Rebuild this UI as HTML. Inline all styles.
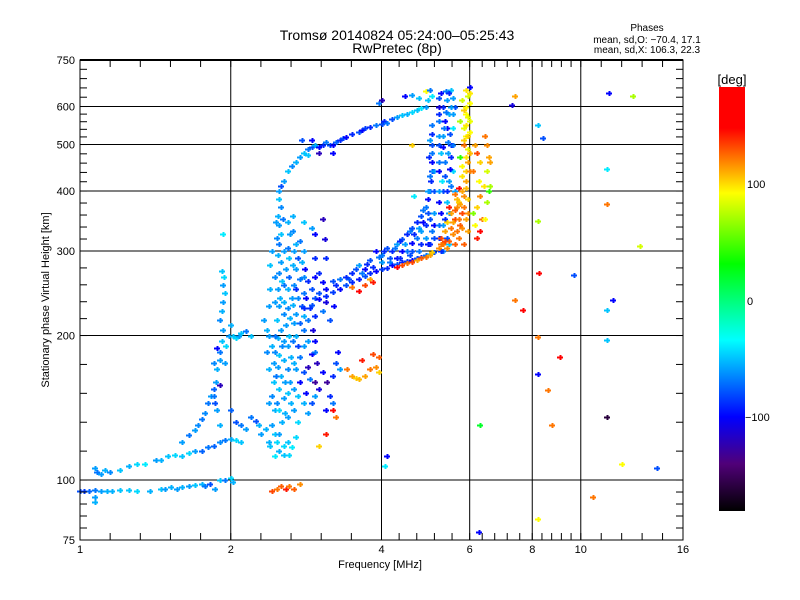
<!DOCTYPE html>
<html><head><meta charset="utf-8">
<style>
html,body{margin:0;padding:0;background:#fff;}
svg{display:block;font-family:"Liberation Sans",sans-serif;}
text{fill:#000;}
</style></head>
<body>
<svg id="chart" width="800" height="600" viewBox="0 0 800 600">
  <rect x="0" y="0" width="800" height="600" fill="#fff"/>
  <text x="397" y="40" font-size="14" text-anchor="middle">Tromsø 20140824 05:24:00–05:25:43</text>
  <text x="397" y="53" font-size="14" text-anchor="middle">RwPretec (8p)</text>
  <text x="647" y="31" font-size="10" text-anchor="middle">Phases</text>
  <text x="647" y="43" font-size="10" text-anchor="middle">mean, sd,O: −70.4, 17.1</text>
  <text x="647" y="53" font-size="10" text-anchor="middle">mean, sd,X: 106.3, 22.3</text>
  <g id="grid"></g>
  <g id="points"></g>
  <g id="axes"></g>
  <text x="380" y="568" font-size="11" text-anchor="middle">Frequency [MHz]</text>
  <text transform="translate(49,300) rotate(-90)" font-size="11" text-anchor="middle">Stationary phase Virtual Height [km]</text>
  <defs>
    <linearGradient id="cbgrad" x1="0" y1="1" x2="0" y2="0">
      <stop offset="0" stop-color="#000"/>
      <stop offset="0.111" stop-color="#500078"/>
      <stop offset="0.222" stop-color="#0000ff"/>
      <stop offset="0.403" stop-color="#00ffff"/>
      <stop offset="0.583" stop-color="#00ff00"/>
      <stop offset="0.75" stop-color="#ffff00"/>
      <stop offset="0.819" stop-color="#ff8c00"/>
      <stop offset="0.903" stop-color="#ff0000"/>
      <stop offset="1" stop-color="#ff0000"/>
    </linearGradient>
  </defs>
  <rect x="719" y="87" width="26" height="424" fill="url(#cbgrad)"/>
  <text x="732" y="84" font-size="13" text-anchor="middle">[deg]</text>
  <text x="747" y="188" font-size="11">100</text>
  <text x="747" y="305" font-size="11">0</text>
  <text x="745" y="421" font-size="11">−100</text>
</svg>
<script>
// ---- data: [frequency MHz, virtual height km, phase deg] ----
const eLayerTrace = [[1.0,95,-80],[1.02,95,-85],[1.04,95,-75],[1.07,95.5,-70],[1.1,95,-60],[1.13,95,-55],[1.16,95,-55],[1.2,95.5,-50],[1.25,95.5,-50],[1.3,95,-45],[1.38,95,-55],[1.45,96,-50],[1.48,96,-60],[1.52,96.5,-55],[1.56,96,-60],[1.6,96.5,-55],[1.65,97,-60],[1.7,97.5,-50],[1.75,98,-55],[1.78,97,-70],[1.82,98,-80],[1.86,96,-60],[1.9,100,-50],[1.95,100,-70],[2.0,101,-45],[2.02,99,-55],[1.07,92,-60],[1.07,90,-55]];
const lowTrace = [[1.07,106,-60],[1.08,104,-70],[1.1,103,-60],[1.12,105,-55],[1.15,104,-65],[1.2,105,-50],[1.25,107,-55],[1.3,108,-45],[1.35,108,-40],[1.42,110,-60],[1.45,110,-55],[1.5,112,-50],[1.55,113,-45],[1.6,112,-50],[1.65,114,-45],[1.7,115,-60],[1.75,115,-75],[1.8,117,-70],[1.85,118,-75],[1.9,120,-65],[1.95,121,-70],[2.0,122,-55],[2.05,121,-45],[2.1,120,-50],[1.6,120,-60],[1.65,124,-70],[1.7,127,-60],[1.72,130,-65],[1.75,134,-70],[1.78,138,-65],[1.8,145,-70],[1.83,150,-60],[1.85,155,-75]];
const risingTrace = [[1.85,150,-70],[1.87,160,-60],[1.88,170,-55],[1.9,178,-60],[1.9,185,-70],[1.92,195,-50],[1.93,205,-60],[1.9,215,-65],[1.92,225,-55],[1.93,235,-60],[1.95,245,-50],[1.93,255,-60],[1.94,265,-45],[1.92,272,-50],[1.96,190,-45],[1.98,200,-60],[2.0,210,-55],[2.02,200,-50],[2.05,198,-45],[2.08,200,-60],[2.1,202,-50],[2.15,204,-70],[2.2,200,-50],[1.88,140,-60],[1.86,145,-80],[1.9,130,-55],[1.9,158,-120],[1.85,175,-65],[1.88,188,-100],[1.95,175,-60],[1.93,325,-40],[2.05,132,-80],[2.1,130,-70],[2.15,128,-60],[2.2,135,-70],[2.25,133,-80],[2.0,140,-75]];
const fCluster = [[2.33,215,-60],[2.36,205,-55],[2.38,230,-60],[2.4,250,-55],[2.4,280,-50],[2.42,300,-60],[2.42,190,-55],[2.44,175,-60],[2.44,160,-50],[2.42,150,-65],[2.45,140,-55],[2.42,130,-60],[2.45,125,-50],[2.47,120,-45],[2.5,385,-50],[2.52,370,-65],[2.48,355,-55],[2.5,340,-60],[2.52,325,-50],[2.5,310,-70],[2.48,295,-55],[2.52,285,-60],[2.5,270,-65],[2.53,260,-50],[2.48,250,-60],[2.51,240,-55],[2.5,230,-60],[2.55,222,-65],[2.47,215,-50],[2.52,205,-60],[2.49,198,-55],[2.53,190,-65],[2.5,182,-50],[2.48,172,-60],[2.52,165,-55],[2.5,155,-50],[2.55,148,-60],[2.5,140,-45],[2.53,132,-55],[2.5,125,-60],[2.6,345,-55],[2.63,325,-60],[2.6,305,-70],[2.62,290,-50],[2.58,275,-60],[2.62,265,-75],[2.6,250,-55],[2.65,240,-60],[2.6,228,-65],[2.63,218,-55],[2.58,210,-60],[2.62,200,-50],[2.6,190,-60],[2.64,180,-55],[2.6,170,-65],[2.63,160,-60],[2.6,152,-50],[2.64,145,-55],[2.6,135,-60],[2.7,310,-55],[2.72,290,-80],[2.7,275,-60],[2.75,262,-70],[2.7,250,-90],[2.73,240,-65],[2.78,230,-80],[2.7,222,-60],[2.75,212,-75],[2.7,200,-55],[2.72,190,-85],[2.75,180,-70],[2.7,170,-60],[2.75,160,-100],[2.72,150,-50],[2.68,140,-60],[2.72,132,-45],[2.82,275,-100],[2.85,260,-90],[2.9,250,-80],[2.83,240,-100],[2.88,228,-90],[2.85,215,-70],[2.92,205,-110],[2.85,195,-60],[2.9,183,-100],[2.85,172,-120],[2.88,162,-70],[2.83,152,-100],[2.9,145,-80],[2.85,138,-60],[3.0,270,-90],[3.05,258,-100],[3.0,245,-80],[3.1,235,-110],[3.05,225,-70],[3.15,215,-80],[2.98,175,-120],[3.05,168,-100],[3.12,160,-130],[3.0,155,-110],[3.15,150,-90],[3.2,145,-70],[3.1,140,-100],[3.2,165,-90],[3.25,175,-80],[3.3,170,-60],[2.95,160,-130],[3.28,185,-100],[2.66,355,-55],[2.8,345,-50],[3.05,350,-120],[2.9,335,-60],[2.95,325,-100],[3.08,318,-110],[2.75,315,-70],[2.4,118,-50],[2.45,112,-40],[2.5,115,-55],[2.55,118,-45],[2.6,120,-50],[2.65,117,-40],[2.62,113,-45],[2.35,128,-55],[2.3,125,-60]];
const fClusterExtra = [[2.46,345,-60],[2.54,350,-70],[2.47,320,-65],[2.55,300,-60],[2.45,265,-65],[2.55,255,-70],[2.45,235,-60],[2.56,235,-55],[2.45,200,-70],[2.56,195,-60],[2.45,185,-65],[2.56,178,-55],[2.46,165,-70],[2.57,160,-60],[2.47,145,-65],[2.57,138,-55],[2.66,330,-65],[2.67,300,-60],[2.66,280,-55],[2.67,255,-65],[2.66,232,-55],[2.67,212,-60],[2.66,195,-70],[2.67,175,-55],[2.67,155,-60],[2.8,300,-60],[2.78,285,-55],[2.8,265,-65],[2.8,245,-70],[2.8,220,-55],[2.8,205,-70],[2.8,190,-60],[2.8,168,-80],[2.8,145,-55],[2.95,290,-90],[2.95,265,-100],[2.95,240,-80],[2.95,220,-90],[2.95,195,-100],[2.95,185,-70],[2.95,150,-60],[3.1,250,-100],[3.1,290,-90],[3.2,260,-80],[3.22,230,-100],[2.38,145,-60],[2.38,170,-55],[2.36,185,-65],[2.38,200,-60],[2.38,120,-55],[2.28,130,-55],[2.55,113,-50],[2.7,123,-45]];
const f1Band = [[2.8,228,-90],[2.9,232,-80],[3.0,238,-100],[3.1,242,-90],[3.2,247,-85],[3.3,250,-100],[3.4,255,-80],[3.5,258,-90],[3.6,262,-95],[3.7,266,-80],[3.8,270,-90],[3.9,272,-100],[4.0,275,-85],[4.1,277,-90],[4.2,280,-100],[4.3,282,-80],[4.4,284,-90],[4.5,286,-85],[4.6,288,-100],[4.7,290,-80],[4.8,292,-90],[4.9,294,-70],[5.0,296,-60],[5.1,298,-80],[3.3,262,-70],[3.5,270,-90],[3.6,280,-60],[3.8,288,-80],[3.9,300,-100],[4.0,295,-70],[4.1,305,-80],[4.2,300,-90],[4.3,310,-60],[4.4,318,-80],[4.5,300,-70],[4.5,325,-90],[4.6,312,-100],[4.6,335,-80],[4.7,320,-70],[4.7,345,-90],[4.8,330,-60],[4.8,355,-80],[4.9,340,-90],[4.9,370,-70],[4.95,385,-100],[5.0,350,-80],[5.0,400,-70],[5.02,420,-90],[5.05,440,-80],[5.05,460,-100],[5.05,480,-70],[5.05,500,-80],[5.05,525,-90],[5.05,550,-70],[4.95,310,-100],[5.1,320,-80],[5.1,360,-60],[4.3,290,-100],[4.0,285,-60],[3.7,275,-100],[4.15,290,-80]];
const f1BandExtra = [[3.4,265,-90],[3.55,275,-80],[3.75,282,-90],[3.95,292,-70],[4.05,300,-90],[4.25,305,-70],[4.35,315,-90],[4.45,310,-60],[4.55,330,-70],[4.65,325,-90],[4.75,335,-60],[4.85,345,-100],[4.85,365,-70],[4.95,360,-80],[4.95,400,-60],[5.0,430,-70],[4.98,470,-90],[5.0,510,-60],[5.1,400,-80],[5.1,440,-60],[4.4,300,-100],[4.6,300,-80],[4.8,310,-90],[4.9,320,-60],[5.05,330,-70],[5.1,340,-100],[3.25,255,-90],[3.45,262,-80],[3.65,270,-70],[3.85,278,-90],[4.15,285,-70],[4.35,290,-90],[4.55,295,-80],[4.75,300,-70],[5.0,310,-90]];
const oColumn = [[5.2,320,-90],[5.3,340,-60],[5.25,360,-100],[5.4,380,-50],[5.3,400,-80],[5.45,420,-60],[5.2,440,-100],[5.35,460,-70],[5.25,480,-50],[5.5,500,-90],[5.3,520,-60],[5.4,540,-100],[5.2,560,-70],[5.45,580,-55],[5.3,600,-90],[5.4,620,-60],[5.25,640,-100],[5.5,650,-50],[5.5,360,-70],[5.55,440,-45],[5.55,540,-40],[5.6,600,-80],[5.2,600,-110],[5.2,500,-80],[5.3,300,-70],[5.45,310,-50],[5.5,470,-90],[5.35,560,-100],[5.55,625,-60],[5.28,420,-40],[5.6,400,-60],[5.2,380,-100],[5.22,340,-70],[5.35,350,-90],[5.45,360,-60],[5.22,400,-60],[5.4,400,-90],[5.5,410,-70],[5.35,430,-80],[5.48,445,-100],[5.22,460,-70],[5.42,480,-60],[5.3,495,-100],[5.42,505,-70],[5.22,520,-60],[5.48,525,-80],[5.32,540,-70],[5.22,580,-90],[5.38,585,-70],[5.5,600,-60],[5.22,625,-80],[5.38,645,-70],[5.45,640,-90],[5.55,580,-60],[5.55,500,-70],[5.25,300,-90],[5.4,320,-80]];
const xTrace = [[4.4,280,130],[4.5,283,120],[4.6,285,130],[4.7,287,110],[4.8,290,125],[4.9,292,120],[5.0,295,110],[5.05,298,100],[4.3,278,150],[5.2,305,115],[5.3,310,120],[5.25,320,130],[5.35,330,110],[5.45,315,125],[5.5,335,120],[5.55,325,115],[5.4,345,100],[5.6,350,130],[5.5,360,110],[5.7,320,120],[5.75,340,125],[5.65,370,115],[5.8,360,130],[5.7,380,100],[5.85,390,115],[5.6,395,120],[5.9,405,105],[5.95,330,110],[5.85,310,125],[5.9,420,110],[5.8,430,95],[5.45,370,140],[5.7,405,150],[5.25,310,120],[5.4,305,115],[5.6,310,125],[5.65,330,120],[5.55,345,110],[5.7,350,120],[5.8,335,115],[5.9,350,110],[5.6,365,125],[5.75,375,110],[5.85,370,120],[5.65,385,105],[5.95,385,100],[5.8,400,110],[5.9,440,100],[5.95,360,115],[5.35,315,130]];
const xColumn = [[5.8,450,90],[5.9,470,95],[5.95,490,85],[5.85,510,100],[6.0,530,90],[5.9,550,95],[5.95,570,85],[5.85,590,100],[6.0,610,90],[5.95,630,80],[5.9,650,95],[5.75,560,70],[5.8,620,80],[6.0,480,105],[6.0,440,115],[5.85,500,120],[5.95,460,110],[6.0,660,-100],[5.75,470,40],[6.15,500,110],[6.2,480,130],[6.3,460,100],[6.1,440,120],[6.25,420,90],[6.4,410,95],[6.3,390,115],[6.2,370,100],[6.35,350,120],[6.15,340,90],[6.5,440,80],[6.6,410,70],[6.55,470,110],[6.45,520,120],[6.5,500,115],[6.3,330,150],[6.2,320,140],[6.5,380,70],[6.1,360,60],[6.45,350,90],[6.55,400,40],[6.6,460,110],[5.9,520,90],[6.0,560,85],[5.9,600,90],[6.0,640,95],[5.85,540,85],[5.95,520,100],[5.9,580,90]];
const upperTrace = [[2.5,400,-60],[2.52,410,-80],[2.55,420,-60],[2.6,440,-50],[2.65,450,-65],[2.7,460,-55],[2.75,470,-60],[2.8,480,-50],[2.85,490,-70],[2.9,495,-80],[2.95,500,-55],[3.0,495,-100],[3.05,500,-90],[3.1,505,-70],[3.15,500,-80],[3.2,498,-100],[3.25,505,-75],[3.3,510,-90],[3.35,515,-80],[3.4,518,-100],[3.5,525,-90],[3.6,530,-80],[3.65,535,-100],[3.7,540,-85],[3.8,545,-90],[3.9,550,-70],[4.0,553,-80],[4.05,560,-90],[4.1,555,-70],[4.2,565,-80],[4.3,570,-60],[4.4,575,-50],[4.5,580,-55],[4.6,585,-45],[4.7,590,-50],[4.8,595,-40],[4.9,598,-60],[3.0,480,-120],[3.2,480,-100],[2.85,475,-50],[2.78,510,-80],[2.9,510,-100],[3.95,610,-70],[4.0,620,-120],[4.45,630,-100],[4.6,635,-60],[4.75,625,-50],[4.9,645,90],[5.0,650,-70],[4.95,620,-50],[5.05,630,-40],[4.6,500,100],[4.65,390,-40]];
const scatterMid = [[3.42,170,120],[3.5,165,110],[3.55,163,100],[3.6,162,105],[3.7,165,110],[3.8,170,120],[3.9,172,115],[3.95,168,100],[3.95,180,125],[3.85,183,130],[3.65,178,140],[3.1,125,140],[3.2,140,150],[3.25,135,120],[3.0,118,100],[3.5,252,120],[3.6,248,150],[3.7,255,130],[3.8,262,110],[3.85,258,140],[2.42,95,130],[2.47,96,120],[2.52,97,125],[2.58,96,140],[2.62,97,120],[2.67,96,125],[2.75,98,115],[4.06,107,-40],[4.1,112,-100]];
const scatterRight = [[11.4,640,-100],[12.7,630,70],[7.4,632,110],[7.3,605,-110],[8.2,550,-50],[8.4,515,-80],[11.3,445,-40],[11.3,375,120],[8.2,346,70],[13.1,307,80],[8.25,270,160],[9.7,268,-80],[11.6,237,-100],[7.4,237,120],[7.65,226,160],[11.3,226,-50],[11.3,196,-50],[8.2,199,120],[9.1,180,160],[8.2,166,-100],[8.6,154,120],[8.75,130,120],[6.3,130,20],[11.3,135,-160],[12.1,108,90],[14.2,106,-80],[10.6,92,120],[8.2,83,90],[6.25,78,-100]];

// ---- axis functions ----
const PX0=80, PX1=683, PY0=540, PY1=60;
function xScale(f){ return PX0 + Math.log2(f)/Math.log2(16)*(PX1-PX0); }
function yScale(h){ return PY0 - Math.log10(h/75)*(PY0-PY1); }
const cStops=[[-180,0,0,0],[-140,80,0,120],[-100,0,0,255],[-35,0,255,255],[30,0,255,0],[90,255,255,0],[115,255,140,0],[145,255,0,0],[180,255,0,0]];
function phaseColor(p){
  p=Math.max(-180,Math.min(180,p));
  for(let i=0;i<cStops.length-1;i++){
    const a=cStops[i],b=cStops[i+1];
    if(p<=b[0]){const t=(p-a[0])/(b[0]-a[0]);
      return 'rgb('+[1,2,3].map(k=>Math.round(a[k]+t*(b[k]-a[k]))).join(',')+')';}
  }
  return 'rgb(255,0,0)';
}
const NS='http://www.w3.org/2000/svg';
function mk(tag,attrs,parent){const e=document.createElementNS(NS,tag);for(const k in attrs)e.setAttribute(k,attrs[k]);parent.appendChild(e);return e;}

// grid
const grid=document.getElementById('grid');
const xGrid=[2,4,6,8,10], yGrid=[100,200,300,400,500,600];
xGrid.forEach(f=>{const l=mk('line',{x1:xScale(f),x2:xScale(f),y1:PY1,y2:PY0,stroke:'#000','stroke-width':1},grid);

});
yGrid.forEach(h=>{const l=mk('line',{x1:PX0,x2:PX1,y1:yScale(h),y2:yScale(h),stroke:'#000','stroke-width':1},grid);

});

// points
const pg=document.getElementById('points');
const groups=[eLayerTrace,lowTrace,risingTrace,fCluster,fClusterExtra,f1Band,f1BandExtra,oColumn,xTrace,xColumn,upperTrace,scatterMid,scatterRight];
groups.forEach(g=>g.forEach(d=>{
  const x=Math.round(xScale(d[0])), y=Math.round(yScale(d[1]));
  const p=mk('path',{d:'M'+(x-3)+' '+(y+0.5)+'h6M'+(x+0.5)+' '+(y-2)+'v5',stroke:phaseColor(d[2]),'stroke-width':2,fill:'none'},pg);
  
  
}));

// axes
const ax=document.getElementById('axes');
const fr=mk('rect',{x:PX0,y:PY1,width:PX1-PX0,height:PY0-PY1,fill:'none',stroke:'#000','stroke-width':1},ax);


mk('line',{x1:PX0,x2:PX1,y1:PY1,y2:PY1,stroke:'#000','stroke-width':2},ax);
const xMajors=[1,2,4,6,8,10,16], xLabels=['1','2','4','6','8','10','16'];
const yMajors=[75,100,200,300,400,500,600,750], yLabels=['75','100','200','300','400','500','600','750'];
const TL=7;
for(let i=0;i<xMajors.length;i++){
  const x=xScale(xMajors[i]);
  const t=mk('text',{x:x,y:553,'font-size':11,'text-anchor':'middle'},ax);t.textContent=xLabels[i];
  
  
  if(i<xMajors.length-1){const x2=xScale(xMajors[i+1]);
    for(let k=0;k<5;k++){const xx=x+(x2-x)*k/5;
      mk('line',{x1:xx,x2:xx,y1:PY0,y2:PY0-TL,stroke:'#000'},ax);
      mk('line',{x1:xx,x2:xx,y1:PY1,y2:PY1+TL,stroke:'#000'},ax);}}
}
for(let i=0;i<yMajors.length;i++){
  const y=yScale(yMajors[i]);
  const t=mk('text',{x:75,y:y+4,'font-size':11,'text-anchor':'end'},ax);t.textContent=yLabels[i];
  
  
  if(i<yMajors.length-1){const y2=yScale(yMajors[i+1]);
    for(let k=0;k<5;k++){const yy=y+(y2-y)*k/5;
      mk('line',{x1:PX0,x2:PX0+TL,y1:yy,y2:yy,stroke:'#000'},ax);
      mk('line',{x1:PX1,x2:PX1-TL,y1:yy,y2:yy,stroke:'#000'},ax);}}
}
</script>
</body></html>
